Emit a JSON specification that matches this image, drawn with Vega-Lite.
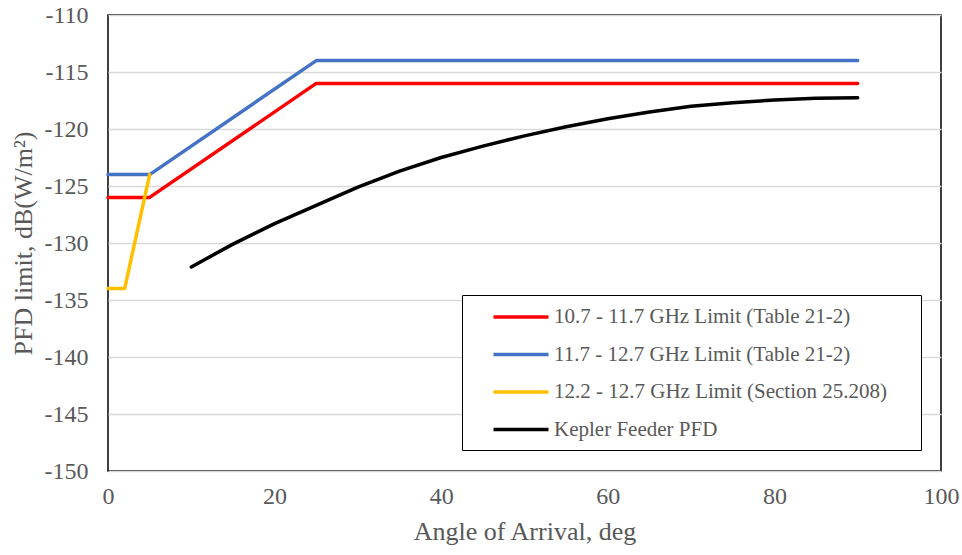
{
  "$schema": "https://vega.github.io/schema/vega-lite/v6.json",
  "width": 833,
  "height": 456,
  "autosize": {"type": "none"},
  "padding": {"left": 108, "top": 15, "right": 21, "bottom": 84},
  "background": "white",
  "config": {
    "view": {"stroke": "black", "strokeWidth": 1.5},
    "font": "Liberation Serif"
  },
  "data": {
    "values": [
      {"series": "10.7 - 11.7 GHz Limit (Table 21-2)", "angle": 0, "pfd": -126},
      {"series": "10.7 - 11.7 GHz Limit (Table 21-2)", "angle": 5, "pfd": -126},
      {"series": "10.7 - 11.7 GHz Limit (Table 21-2)", "angle": 25, "pfd": -116},
      {"series": "10.7 - 11.7 GHz Limit (Table 21-2)", "angle": 90, "pfd": -116},
      {"series": "11.7 - 12.7 GHz Limit (Table 21-2)", "angle": 0, "pfd": -124},
      {"series": "11.7 - 12.7 GHz Limit (Table 21-2)", "angle": 5, "pfd": -124},
      {"series": "11.7 - 12.7 GHz Limit (Table 21-2)", "angle": 25, "pfd": -114},
      {"series": "11.7 - 12.7 GHz Limit (Table 21-2)", "angle": 90, "pfd": -114},
      {"series": "12.2 - 12.7 GHz Limit (Section 25.208)", "angle": 0, "pfd": -134},
      {"series": "12.2 - 12.7 GHz Limit (Section 25.208)", "angle": 2, "pfd": -134},
      {"series": "12.2 - 12.7 GHz Limit (Section 25.208)", "angle": 5, "pfd": -124},
      {"series": "Kepler Feeder PFD", "angle": 10, "pfd": -132.1},
      {"series": "Kepler Feeder PFD", "angle": 15, "pfd": -130.1},
      {"series": "Kepler Feeder PFD", "angle": 20, "pfd": -128.3},
      {"series": "Kepler Feeder PFD", "angle": 25, "pfd": -126.7},
      {"series": "Kepler Feeder PFD", "angle": 30, "pfd": -125.1},
      {"series": "Kepler Feeder PFD", "angle": 35, "pfd": -123.7},
      {"series": "Kepler Feeder PFD", "angle": 40, "pfd": -122.5},
      {"series": "Kepler Feeder PFD", "angle": 45, "pfd": -121.5},
      {"series": "Kepler Feeder PFD", "angle": 50, "pfd": -120.6},
      {"series": "Kepler Feeder PFD", "angle": 55, "pfd": -119.8},
      {"series": "Kepler Feeder PFD", "angle": 60, "pfd": -119.1},
      {"series": "Kepler Feeder PFD", "angle": 65, "pfd": -118.5},
      {"series": "Kepler Feeder PFD", "angle": 70, "pfd": -118.0},
      {"series": "Kepler Feeder PFD", "angle": 75, "pfd": -117.7},
      {"series": "Kepler Feeder PFD", "angle": 80, "pfd": -117.45},
      {"series": "Kepler Feeder PFD", "angle": 85, "pfd": -117.3},
      {"series": "Kepler Feeder PFD", "angle": 90, "pfd": -117.25}
    ]
  },
  "mark": {"type": "line", "strokeWidth": 3.5, "strokeCap": "round", "strokeJoin": "round"},
  "encoding": {
    "x": {
      "field": "angle", "type": "quantitative",
      "scale": {"domain": [0, 100], "nice": false},
      "axis": {
        "title": "Angle of Arrival, deg", "values": [0, 20, 40, 60, 80, 100],
        "grid": false, "domain": false, "ticks": false, "labelFlush": false,
        "labelFont": "Liberation Serif", "labelFontSize": 24, "labelColor": "#595959", "labelPadding": 13,
        "titleFont": "Liberation Serif", "titleFontSize": 26, "titleFontWeight": "normal", "titleColor": "#595959", "titlePadding": 10
      }
    },
    "y": {
      "field": "pfd", "type": "quantitative",
      "scale": {"domain": [-150, -110], "nice": false, "zero": false},
      "axis": {
        "title": "PFD limit, dB(W/m²)", "values": [-150, -145, -140, -135, -130, -125, -120, -115, -110],
        "labelExpr": "replace(datum.label, '\u2212', '-')",
        "grid": true, "gridColor": "#d9d9d9", "gridWidth": 1.5,
        "domain": false, "ticks": false, "labelFlush": false,
        "labelFont": "Liberation Serif", "labelFontSize": 24, "labelColor": "#595959", "labelPadding": 20,
        "titleFont": "Liberation Serif", "titleFontSize": 26, "titleFontWeight": "normal", "titleColor": "#595959",
        "titleX": -85, "titleY": 228, "titleBaseline": "middle", "titleAlign": "center", "titleAngle": -90
      }
    },
    "color": {
      "field": "series", "type": "nominal",
      "scale": {
        "domain": ["10.7 - 11.7 GHz Limit (Table 21-2)", "11.7 - 12.7 GHz Limit (Table 21-2)", "12.2 - 12.7 GHz Limit (Section 25.208)", "Kepler Feeder PFD"],
        "range": ["#ff0000", "#4472c4", "#ffc000", "#000000"]
      },
      "legend": {
        "title": "\u00a0", "titleOrient": "right", "titlePadding": 24, "titleFontSize": 2,
        "orient": "none", "legendX": 354, "legendY": 280,
        "strokeColor": "black", "fillColor": "white", "padding": 10, "cornerRadius": 0,
        "symbolType": "M-2.75,0H2.75", "symbolSize": 400, "symbolStrokeWidth": 3.5, "symbolOffset": 37,
        "labelFont": "Liberation Serif", "labelFontSize": 21, "labelColor": "#595959", "labelLimit": 600, "labelOffset": 21,
        "rowPadding": 15.5
      }
    }
  }
}
